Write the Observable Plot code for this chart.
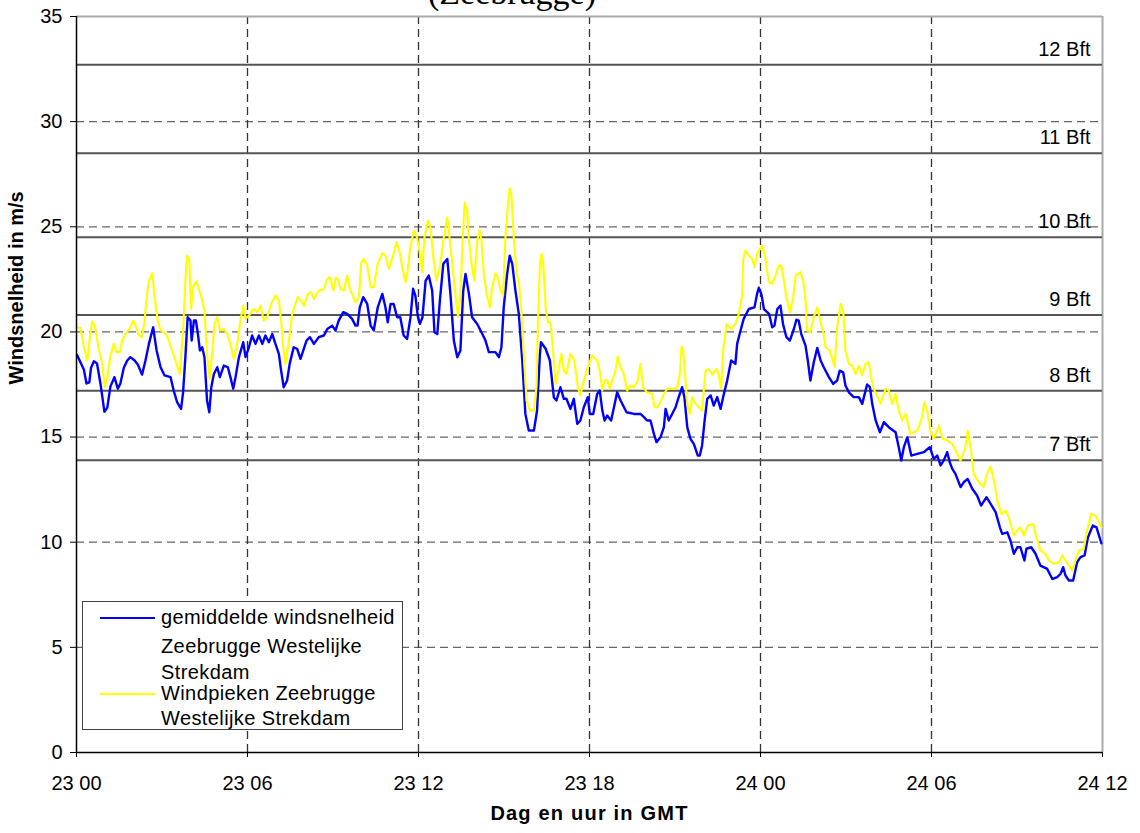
<!DOCTYPE html>
<html>
<head>
<meta charset="utf-8">
<script src="https://cdn.jsdelivr.net/npm/d3@7"></script>
<script src="https://cdn.jsdelivr.net/npm/@observablehq/plot@0.6"></script>
<style>
  html, body { margin: 0; padding: 0; background: #fff; overflow: hidden; }
  #wrap { position: relative; width: 1140px; height: 833px; }
  #title { position: absolute; left: 428px; top: -26px; font-family: "Liberation Serif", "Times New Roman", serif; font-size: 34px; white-space: nowrap; color: #000; }
  #legend { position: absolute; left: 82px; top: 601px; width: 319px; height: 127px; background: #fff; border: 1px solid #444; font-family: "Liberation Sans", Arial, sans-serif; font-size: 20px; color: #000; }
  #legend .sw { position: absolute; left: 17px; width: 55px; height: 0; border-top: 2px solid; }
  #legend .tx { position: absolute; left: 78px; white-space: nowrap; line-height: 20px; letter-spacing: 0.4px; }
  .xtitle text { letter-spacing: 1.2px; }
</style>
</head>
<body>
<div id="wrap">
  <div id="chart"></div>
  <div id="title">(Zeebrugge)</div>
  <div id="legend">
    <div class="sw" style="top:15px;border-color:#0000ff"></div>
    <div class="tx" style="top:5px">gemiddelde windsnelheid</div>
    <div class="tx" style="top:34px">Zeebrugge Westelijke</div>
    <div class="tx" style="top:60px">Strekdam</div>
    <div class="sw" style="top:91px;border-color:#ffff00"></div>
    <div class="tx" style="top:81px">Windpieken Zeebrugge</div>
    <div class="tx" style="top:106px">Westelijke Strekdam</div>
  </div>
</div>
<script>
// Hours since 23 00 GMT
const xTicks = [0, 6, 12, 18, 24, 30, 36];
const xTickLabels = ["23 00", "23 06", "23 12", "23 18", "24 00", "24 06", "24 12"];
const yTicks = [0, 5, 10, 15, 20, 25, 30, 35];
const yGrid = [5, 10, 15, 20, 25, 30];
const bftValues = [13.9, 17.2, 20.8, 24.5, 28.5, 32.7];
const bftLabels = ["7 Bft", "8 Bft", "9 Bft", "10 Bft", "11 Bft", "12 Bft"];

// gemiddelde windsnelheid (blue)
const meanHours = [0.02,0.26,0.35,0.45,0.51,0.61,0.72,0.84,0.98,1.08,1.19,1.33,1.45,1.54,1.66,1.78,1.89,2.04,2.15,2.3,2.42,2.54,2.69,2.81,2.95,3.09,3.3,3.41,3.53,3.67,3.74,3.82,3.9,4.0,4.04,4.12,4.19,4.26,4.33,4.41,4.49,4.58,4.66,4.73,4.82,4.94,5.03,5.17,5.31,5.4,5.5,5.58,5.7,5.85,5.93,6.05,6.16,6.28,6.4,6.52,6.63,6.75,6.87,6.98,7.1,7.18,7.27,7.39,7.48,7.62,7.74,7.86,8.07,8.19,8.33,8.5,8.68,8.8,8.97,9.09,9.2,9.36,9.5,9.67,9.79,9.86,9.94,10.06,10.2,10.32,10.43,10.57,10.73,10.84,10.92,11.02,11.13,11.25,11.36,11.48,11.6,11.72,11.81,11.89,11.98,12.05,12.14,12.25,12.36,12.48,12.56,12.66,12.75,12.87,13.01,13.12,13.24,13.36,13.47,13.57,13.65,13.77,13.88,14.06,14.24,14.35,14.47,14.7,14.82,14.91,14.99,15.11,15.2,15.29,15.4,15.52,15.64,15.75,15.87,16.05,16.16,16.26,16.3,16.46,16.61,16.75,16.84,16.98,17.1,17.19,17.33,17.45,17.57,17.68,17.8,17.94,18.01,18.13,18.27,18.36,18.45,18.53,18.62,18.76,18.97,19.09,19.3,19.56,19.79,19.91,20.02,20.14,20.26,20.35,20.49,20.61,20.67,20.78,20.9,21.02,21.13,21.25,21.33,21.43,21.54,21.66,21.8,21.87,21.95,22.04,22.13,22.25,22.36,22.48,22.6,22.69,22.83,22.97,23.12,23.18,23.3,23.41,23.59,23.79,23.88,23.94,24.03,24.12,24.3,24.41,24.49,24.59,24.7,24.79,24.91,25.03,25.17,25.26,25.34,25.43,25.58,25.66,25.75,25.87,25.99,26.11,26.22,26.4,26.55,26.69,26.78,26.9,26.98,27.1,27.27,27.45,27.57,27.74,27.84,27.92,28.04,28.19,28.33,28.5,28.74,28.85,28.94,29.03,29.15,29.29,29.5,29.73,29.94,30.08,30.2,30.32,30.43,30.55,30.64,30.73,30.84,31.02,31.13,31.27,31.43,31.6,31.74,31.93,32.07,32.25,32.4,32.48,32.66,32.77,32.89,33.01,33.12,33.26,33.33,33.5,33.65,33.82,34.06,34.24,34.41,34.53,34.62,34.7,34.82,34.97,35.11,35.23,35.37,35.49,35.66,35.79,35.96];
const meanSpeed = [18.9,18.2,17.55,17.6,18.3,18.6,18.5,17.55,16.2,16.4,17.4,17.85,17.3,17.55,18.3,18.64,18.8,18.64,18.45,17.97,18.64,19.43,20.22,19.12,18.32,17.93,17.85,17.21,16.66,16.34,17.13,18.8,20.7,20.54,19.59,20.54,20.54,19.9,19.12,19.27,18.8,16.74,16.18,17.37,18.0,18.32,17.85,18.4,18.32,17.85,17.3,17.85,18.8,19.51,18.8,19.27,19.83,19.43,19.83,19.43,19.83,19.51,19.9,19.43,18.96,18.16,17.37,17.69,18.48,19.27,19.2,18.72,19.59,19.75,19.43,19.75,19.83,20.14,20.3,20.07,20.54,20.94,20.86,20.62,20.3,20.3,21.17,21.65,21.33,20.3,20.07,21.17,21.81,21.17,20.46,21.33,21.33,20.7,20.7,19.83,19.67,20.7,22.05,21.73,20.7,20.38,20.7,22.44,22.68,21.97,19.99,19.9,21.49,23.24,23.47,21.81,19.59,18.8,19.12,21.97,22.76,21.81,20.7,20.38,19.9,19.59,19.04,19.04,18.8,19.27,21.17,22.76,23.63,23.24,21.97,20.86,18.64,16.1,15.31,15.31,16.26,18.96,19.51,19.2,18.64,16.88,16.74,17.37,16.82,16.82,16.34,16.82,15.63,15.79,16.42,16.9,16.1,16.1,17.05,17.21,16.26,15.79,16.02,15.79,17.13,16.74,16.18,16.1,16.1,15.95,15.79,15.79,15.15,14.76,14.99,15.47,16.34,15.79,16.1,16.42,16.9,17.37,16.9,15.47,14.92,14.68,14.12,14.12,14.6,15.79,16.82,16.98,16.5,16.9,16.34,16.9,17.69,18.64,18.48,19.43,20.07,20.62,21.09,21.17,21.81,22.1,21.81,21.09,20.86,20.22,20.3,21.09,21.25,20.38,19.75,19.59,20.14,20.58,20.54,19.9,19.35,18.64,17.69,18.56,19.24,18.64,18.32,17.85,17.53,17.69,18.16,18.08,17.45,17.13,16.9,16.9,16.58,17.5,17.37,16.58,15.79,15.23,15.71,15.47,15.23,14.52,13.89,14.52,14.99,14.12,14.2,14.28,14.52,13.96,14.12,13.65,13.89,14.28,13.8,13.49,13.25,12.62,12.85,13.01,12.54,12.22,11.74,12.14,11.83,11.43,10.71,10.4,10.47,10.08,9.45,9.76,9.76,9.13,9.69,9.76,9.45,8.89,8.73,8.25,8.34,8.5,8.81,8.42,8.18,8.18,9.05,9.29,9.37,10.24,10.79,10.71,9.95];

// Windpieken (yellow)
const gustHours = [0.02,0.14,0.26,0.38,0.47,0.55,0.64,0.78,0.9,0.99,1.08,1.19,1.31,1.4,1.52,1.6,1.72,1.89,1.99,2.07,2.19,2.3,2.39,2.46,2.54,2.66,2.74,2.85,2.95,3.12,3.24,3.39,3.51,3.62,3.74,3.82,3.88,3.96,4.02,4.09,4.21,4.35,4.49,4.58,4.67,4.76,4.84,4.94,5.03,5.17,5.29,5.4,5.52,5.64,5.75,5.85,5.93,6.05,6.22,6.34,6.46,6.57,6.69,6.83,6.98,7.1,7.18,7.25,7.33,7.45,7.57,7.68,7.77,7.88,7.98,8.12,8.23,8.33,8.5,8.66,8.8,8.89,9.01,9.09,9.17,9.26,9.38,9.5,9.59,9.67,9.79,9.91,9.99,10.08,10.2,10.32,10.43,10.57,10.73,10.84,10.96,11.11,11.23,11.34,11.43,11.54,11.62,11.72,11.84,11.95,12.05,12.13,12.21,12.33,12.42,12.52,12.63,12.75,12.87,13.01,13.1,13.22,13.33,13.39,13.47,13.55,13.62,13.71,13.77,13.88,13.96,14.06,14.14,14.21,14.29,14.39,14.5,14.59,14.7,14.78,14.88,14.97,15.05,15.13,15.2,15.26,15.34,15.44,15.52,15.6,15.7,15.79,15.91,16.05,16.14,16.19,16.26,16.32,16.38,16.46,16.54,16.63,16.73,16.81,16.89,17.01,17.1,17.19,17.33,17.47,17.59,17.68,17.8,17.94,18.09,18.27,18.36,18.45,18.53,18.62,18.71,18.8,18.91,18.99,19.09,19.2,19.32,19.44,19.56,19.69,19.79,19.88,20.02,20.2,20.28,20.38,20.49,20.61,20.73,20.96,21.08,21.17,21.23,21.29,21.37,21.43,21.52,21.6,21.72,21.84,21.95,22.04,22.07,22.19,22.31,22.46,22.54,22.62,22.69,22.81,22.97,23.12,23.24,23.36,23.39,23.47,23.59,23.71,23.79,23.88,23.98,24.07,24.17,24.29,24.41,24.53,24.64,24.73,24.82,24.91,25.03,25.15,25.23,25.4,25.5,25.58,25.64,25.75,25.87,25.99,26.08,26.2,26.28,26.43,26.52,26.6,26.69,26.81,26.9,26.98,27.1,27.22,27.33,27.45,27.57,27.68,27.8,27.88,27.97,28.09,28.21,28.39,28.5,28.62,28.74,28.85,28.97,29.09,29.26,29.5,29.64,29.75,29.85,29.96,30.08,30.26,30.38,30.55,30.73,30.9,31.02,31.19,31.27,31.37,31.48,31.66,31.83,31.95,32.07,32.19,32.31,32.45,32.6,32.71,32.89,33.01,33.12,33.24,33.38,33.57,33.68,33.82,34.0,34.12,34.29,34.47,34.59,34.7,34.82,34.94,35.05,35.17,35.34,35.46,35.6,35.75,35.96];
const gustSpeed = [20.22,20.19,19.27,18.64,19.75,20.51,20.3,19.2,18.48,17.37,17.85,18.88,19.43,19.04,19.04,19.59,19.9,20.22,20.54,20.3,19.83,19.75,20.54,21.65,22.44,22.79,21.65,20.54,20.07,19.94,19.59,18.96,18.48,18.0,20.07,22.44,23.63,23.39,21.09,22.13,22.41,21.81,21.02,18.96,17.77,18.96,20.38,20.7,20.07,20.14,19.9,19.43,18.72,19.43,20.54,21.25,20.62,20.78,21.09,20.94,21.25,20.54,20.7,21.33,21.73,21.49,20.54,19.27,18.48,19.59,20.86,21.33,21.65,21.49,21.25,21.81,21.89,21.57,21.97,22.0,22.52,22.6,21.97,22.57,22.52,22.05,21.97,22.68,22.05,21.81,21.41,21.65,23.31,23.47,23.16,22.13,22.13,23.24,23.74,23.63,23.0,23.63,24.27,23.79,23.08,22.36,22.92,24.11,24.82,24.5,23.71,22.84,24.5,25.3,24.98,23.55,22.44,23.08,24.35,25.45,24.35,22.76,21.33,20.7,21.81,24.35,26.17,25.77,24.35,23.08,22.44,24.35,24.82,24.35,22.76,21.81,21.17,22.13,22.79,22.6,21.97,21.73,24.5,25.93,26.83,26.56,24.5,22.76,22.44,21.17,18.8,16.74,16.26,16.26,17.37,20.38,23.16,23.71,23.24,21.17,20.46,20.46,18.96,17.53,18.0,18.96,18.16,18.0,18.96,18.64,17.37,16.98,17.69,18.32,18.88,18.64,18.16,17.21,17.69,17.72,17.3,17.69,18.16,18.83,18.32,18.0,17.21,17.45,17.37,17.69,18.48,17.37,17.13,17.05,16.42,16.42,16.66,17.05,17.3,17.3,17.37,18.0,19.31,19.12,17.69,16.58,16.1,16.9,16.58,16.42,16.26,17.69,18.16,18.24,17.97,18.24,17.93,17.3,19.12,20.38,20.14,20.38,20.86,21.81,23.39,23.87,23.63,23.47,23.08,23.71,23.95,24.1,23.5,22.36,22.29,22.68,23.16,23.16,22.44,21.65,20.94,21.65,22.68,22.84,22.44,21.49,20.07,19.99,20.7,21.17,20.62,19.99,19.27,19.12,18.72,18.35,20.22,21.33,21.02,19.12,18.48,18.4,18.0,18.4,17.93,18.48,18.56,17.85,17.3,16.98,16.58,17.3,17.21,16.58,17.05,16.26,15.79,16.1,15.15,15.31,15.79,16.66,16.26,15.31,14.92,15.55,14.92,14.84,14.68,14.2,13.89,14.52,15.31,14.52,13.25,12.85,12.62,13.25,13.6,12.93,11.98,11.35,11.51,11.19,10.32,10.56,10.71,10.32,10.79,10.87,10.24,9.61,9.45,9.13,8.97,9.05,9.37,9.13,8.89,8.65,9.13,9.61,9.69,10.56,11.35,11.27,10.71];

const meanData = meanHours.map((h, i) => ({h, v: meanSpeed[i]}));
const gustData = gustHours.map((h, i) => ({h, v: gustSpeed[i]}));
const bftData = bftValues.map((v, i) => ({v, label: bftLabels[i]}));

const chart = Plot.plot({
  width: 1140,
  height: 833,
  marginLeft: 76,
  marginRight: 38,
  marginTop: 16,
  marginBottom: 81,
  style: {fontFamily: "'Liberation Sans', Arial, sans-serif", fontSize: "20px", color: "#000", background: "#fff"},
  x: {domain: [0, 36]},
  y: {domain: [0, 35]},
  marks: [
    Plot.ruleY(yGrid, {stroke: "#666", strokeDasharray: "8,5", strokeWidth: 1.3}),
    Plot.ruleX(xTicks.filter(d => d > 0 && d < 36), {stroke: "#333", strokeDasharray: "8,5", strokeWidth: 1.3}),
    Plot.ruleY([35], {stroke: "#aaa", strokeWidth: 2}),
    Plot.ruleX([36], {stroke: "#aaa", strokeWidth: 2}),
    Plot.ruleY(bftData, {y: "v", stroke: "#555", strokeWidth: 2}),
    Plot.text(bftData, {x: () => 36, y: "v", text: "label", textAnchor: "end", lineAnchor: "bottom", dx: -12, dy: -9, fontSize: 20}),
    Plot.line(meanData, {x: "h", y: "v", stroke: "#0000ff", strokeWidth: 2.4}),
    Plot.line(gustData, {x: "h", y: "v", stroke: "#ffff00", strokeWidth: 2.1}),
    Plot.axisX({ticks: xTicks, tickFormat: d => xTickLabels[xTicks.indexOf(d)], tickSize: 5, tickPadding: 18, label: null, fontSize: 20}),
    Plot.axisY({ticks: yTicks, tickSize: 6, tickPadding: 8, label: null, fontSize: 20}),
    Plot.ruleX([0], {stroke: "#000", strokeWidth: 1.5}),
    Plot.ruleY([0], {stroke: "#000", strokeWidth: 1.5}),
    Plot.text(["Windsnelheid in m/s"], {frameAnchor: "left", rotate: -90, dx: -60, fontWeight: "bold", fontSize: 20}),
    Plot.text(["Dag en uur in GMT"], {frameAnchor: "bottom", dy: 67, fontWeight: "bold", fontSize: 20, className: "xtitle"})
  ]
});
document.getElementById("chart").appendChild(chart);
</script>
</body>
</html>
